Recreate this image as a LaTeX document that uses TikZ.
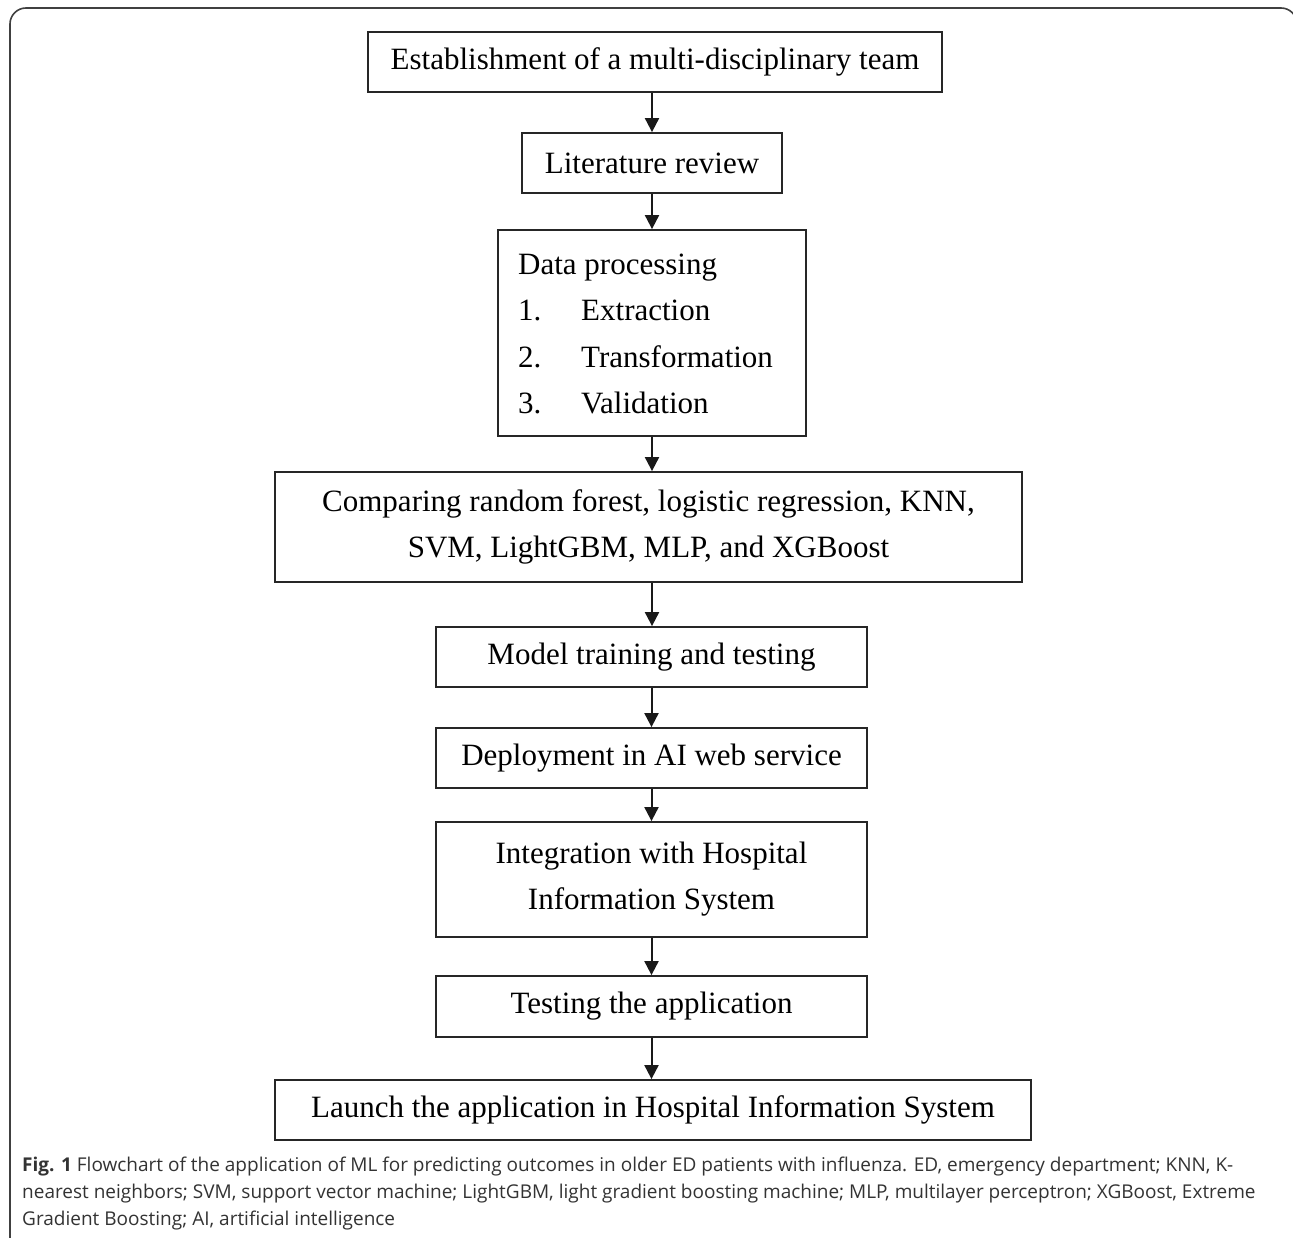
\documentclass[tikz,border=0pt]{standalone}
\usepackage{fontspec}
\setmainfont{Liberation Serif}
\newfontfamily\capfont{Open Sans}
\usetikzlibrary{arrows.meta}
\begin{document}
\begin{tikzpicture}[x=1pt,y=-1pt,
  stepbox/.style={draw=black!85, line width=1.8pt, inner sep=0pt, align=center,
    font=\fontsize{31}{46}\selectfont},
  arr/.style={draw=black!90, line width=2pt, -{Triangle[length=14pt,width=14pt]}}]
\useasboundingbox (0,0) rectangle (1293,1238);
\fill[white] (0,0) rectangle (1293,1238);
\draw[line width=1.6pt, black!75, rounded corners=16pt] (10,1250) -- (10,8) -- (1297,8) -- (1297,1250);
\node[stepbox, minimum width=574pt, minimum height=60pt] (b1) at (655,62) {Establishment of a multi-disciplinary team};
\node[stepbox, minimum width=260pt, minimum height=60pt] (b2) at (652,163) {Literature review};
\node[stepbox, minimum width=308pt, minimum height=206pt] (b3) at (652,333) {};
\node[anchor=west, font=\fontsize{31}{46.3}\selectfont, align=left, inner sep=0pt] (b3t) at (518,334)
  {Data processing\\
   \makebox[63pt][l]{1.}Extraction\\
   \makebox[63pt][l]{2.}Transformation\\
   \makebox[63pt][l]{3.}Validation};
\node[stepbox, minimum width=747pt, minimum height=110pt] (b4) at (648.5,527) {Comparing random forest, logistic regression, KNN,\\SVM, LightGBM, MLP, and XGBoost};
\node[stepbox, minimum width=431pt, minimum height=60pt] (b5) at (651.5,657) {Model training and testing};
\node[stepbox, minimum width=431pt, minimum height=60pt] (b6) at (651.5,758) {Deployment in AI web service};
\node[stepbox, minimum width=431pt, minimum height=115pt] (b7) at (651.5,879.5) {Integration with Hospital\\Information System};
\node[stepbox, minimum width=431pt, minimum height=61pt] (b8) at (651.5,1006.5) {Testing the application};
\node[stepbox, minimum width=756pt, minimum height=60pt] (b9) at (653,1110) {Launch the application in Hospital Information System};
\draw[arr] (b1.south -| b2.north) -- (b2.north);
\draw[arr] (b2.south) -- (b3.north);
\draw[arr] (b3.south) -- (b3.south |- b4.north);
\draw[arr] (b3.south |- b4.south) -- (b3.south |- b5.north);
\draw[arr] (b5.south) -- (b6.north);
\draw[arr] (b6.south) -- (b7.north);
\draw[arr] (b7.south) -- (b8.north);
\draw[arr] (b8.south) -- (b8.south |- b9.north);
\node[anchor=north west, inner sep=0pt, align=left, text=black!80,
  font=\capfont\fontsize{19}{27}\selectfont] (cap) at (22,1157)
  {\textbf{Fig. 1} Flowchart of the application of ML for predicting outcomes in older ED patients with influenza. ED, emergency department; KNN, K-\\
   nearest neighbors; SVM, support vector machine; LightGBM, light gradient boosting machine; MLP, multilayer perceptron; XGBoost, Extreme\\
   Gradient Boosting; AI, artificial intelligence};
\end{tikzpicture}
\end{document}
